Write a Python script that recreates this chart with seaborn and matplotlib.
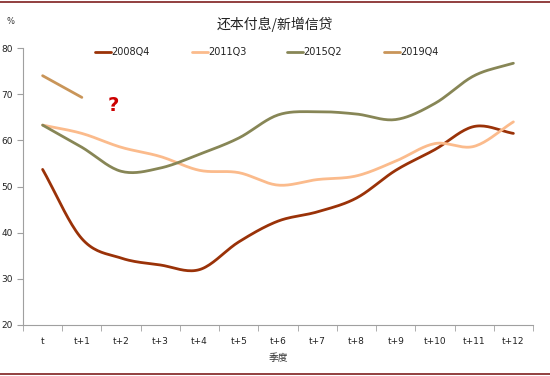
import numpy as np
import pandas as pd
import matplotlib
matplotlib.use("Agg")
import matplotlib.pyplot as plt
import seaborn as sns

# --- data ---
quarters = ["t", "t+1", "t+2", "t+3", "t+4", "t+5", "t+6",
            "t+7", "t+8", "t+9", "t+10", "t+11", "t+12"]
s_2008q4 = [53.7, 38.7, 34.5, 33.0, 32.0, 38.0, 42.5, 44.5, 47.5, 53.5, 58.0, 63.0, 61.5]
s_2011q3 = [63.3, 61.5, 58.5, 56.5, 53.5, 53.0, 50.3, 51.5, 52.3, 55.5, 59.3, 58.7, 64.0]
s_2015q2 = [63.3, 58.5, 53.3, 54.0, 57.0, 60.5, 65.5, 66.2, 65.7, 64.5, 68.0, 74.0, 76.7]
s_2019q4 = [74.0, 69.3]

series = {"2008Q4": s_2008q4, "2011Q3": s_2011q3, "2015Q2": s_2015q2, "2019Q4": s_2019q4}
colors = {"2008Q4": "#9a3208", "2011Q3": "#fbbb8c", "2015Q2": "#878656", "2019Q4": "#c99559"}


def smooth(y, n=20):
    # Catmull-Rom curve through the points, like Excel's smoothed line
    y = np.asarray(y, dtype=float)
    if len(y) < 3:
        return np.arange(len(y), dtype=float), y
    p = np.concatenate([[2 * y[0] - y[1]], y, [2 * y[-1] - y[-2]]])
    xs, ys = [], []
    for i in range(len(y) - 1):
        t = np.linspace(0, 1, n, endpoint=False)
        p0, p1, p2, p3 = p[i], p[i + 1], p[i + 2], p[i + 3]
        v = 0.5 * (2 * p1 + (-p0 + p2) * t + (2 * p0 - 5 * p1 + 4 * p2 - p3) * t ** 2
                   + (-p0 + 3 * p1 - 3 * p2 + p3) * t ** 3)
        xs.append(i + t)
        ys.append(v)
    xs.append([len(y) - 1])
    ys.append([y[-1]])
    return np.concatenate(xs), np.concatenate(ys)


frames = []
for name, vals in series.items():
    x, y = smooth(vals)
    frames.append(pd.DataFrame({"x": x, "value": y, "series": name}))
df = pd.concat(frames, ignore_index=True)

sns.set_style("white")
plt.rcParams["font.family"] = ["DejaVu Sans", "Noto Sans CJK SC"]
cjk = ["Noto Sans CJK SC", "DejaVu Sans"]

fig = plt.figure(figsize=(5.5, 3.76), dpi=100)
ax = fig.add_axes([23 / 550, 1 - 325 / 376, 510 / 550, 277 / 376])

sns.lineplot(data=df, x="x", y="value", hue="series", palette=colors,
             hue_order=list(series.keys()), linewidth=2.0, sort=False,
             estimator=None, ax=ax, legend=False)

ax.set_xlim(-0.5, len(quarters) - 0.5)
ax.set_ylim(20, 80)
ax.set_yticks(range(20, 81, 10))
ax.set_xticks(range(len(quarters)))
ax.set_xticklabels(quarters)
ax.set_xticks(np.arange(-0.5, len(quarters), 1), minor=True)
ax.tick_params(axis="x", which="major", length=0, labelsize=6.5, pad=9, labelcolor="#222222")
ax.tick_params(axis="x", which="minor", length=4, color="#a0a0a0", direction="out", bottom=True)
ax.tick_params(axis="y", length=4, color="#a0a0a0", labelsize=6.5, left=True, direction="out",
               labelcolor="#222222")
for side in ["top", "right"]:
    ax.spines[side].set_visible(False)
for side in ["left", "bottom"]:
    ax.spines[side].set_color("#a0a0a0")
    ax.spines[side].set_linewidth(0.8)
ax.set_xlabel("季度", fontsize=7, labelpad=5, color="#333333", family=cjk)
ax.set_ylabel("")

# legend along the top
for i, name in enumerate(series):
    xl = [95, 192, 287, 384][i]
    fig.lines.append(plt.Line2D([xl / 550, (xl + 16) / 550], [1 - 52 / 376] * 2,
                                color=colors[name], lw=2.0, transform=fig.transFigure))
    fig.text((xl + 16) / 550, 1 - 52 / 376, name, fontsize=7, va="center", ha="left",
             color="#222222")

fig.text(0.5, 1 - 24 / 376, "还本付息/新增信贷", fontsize=10, ha="center", va="center",
         color="#222222", family=cjk)
fig.text(6 / 550, 1 - 21 / 376, "%", fontsize=6, ha="left", va="center", color="#333333")
ax.text(1.8, 67.6, "?", fontsize=14, fontweight="bold", color="#cc0000",
        ha="center", va="center")

# dark red rules at top and bottom
fig.lines.append(plt.Line2D([0, 1], [1 - 2 / 376] * 2, color="#7f1f1f", lw=1.2,
                            transform=fig.transFigure))
fig.lines.append(plt.Line2D([0, 1], [1 - 374 / 376] * 2, color="#7f1f1f", lw=1.2,
                            transform=fig.transFigure))

fig.savefig("out.png", dpi=100)
